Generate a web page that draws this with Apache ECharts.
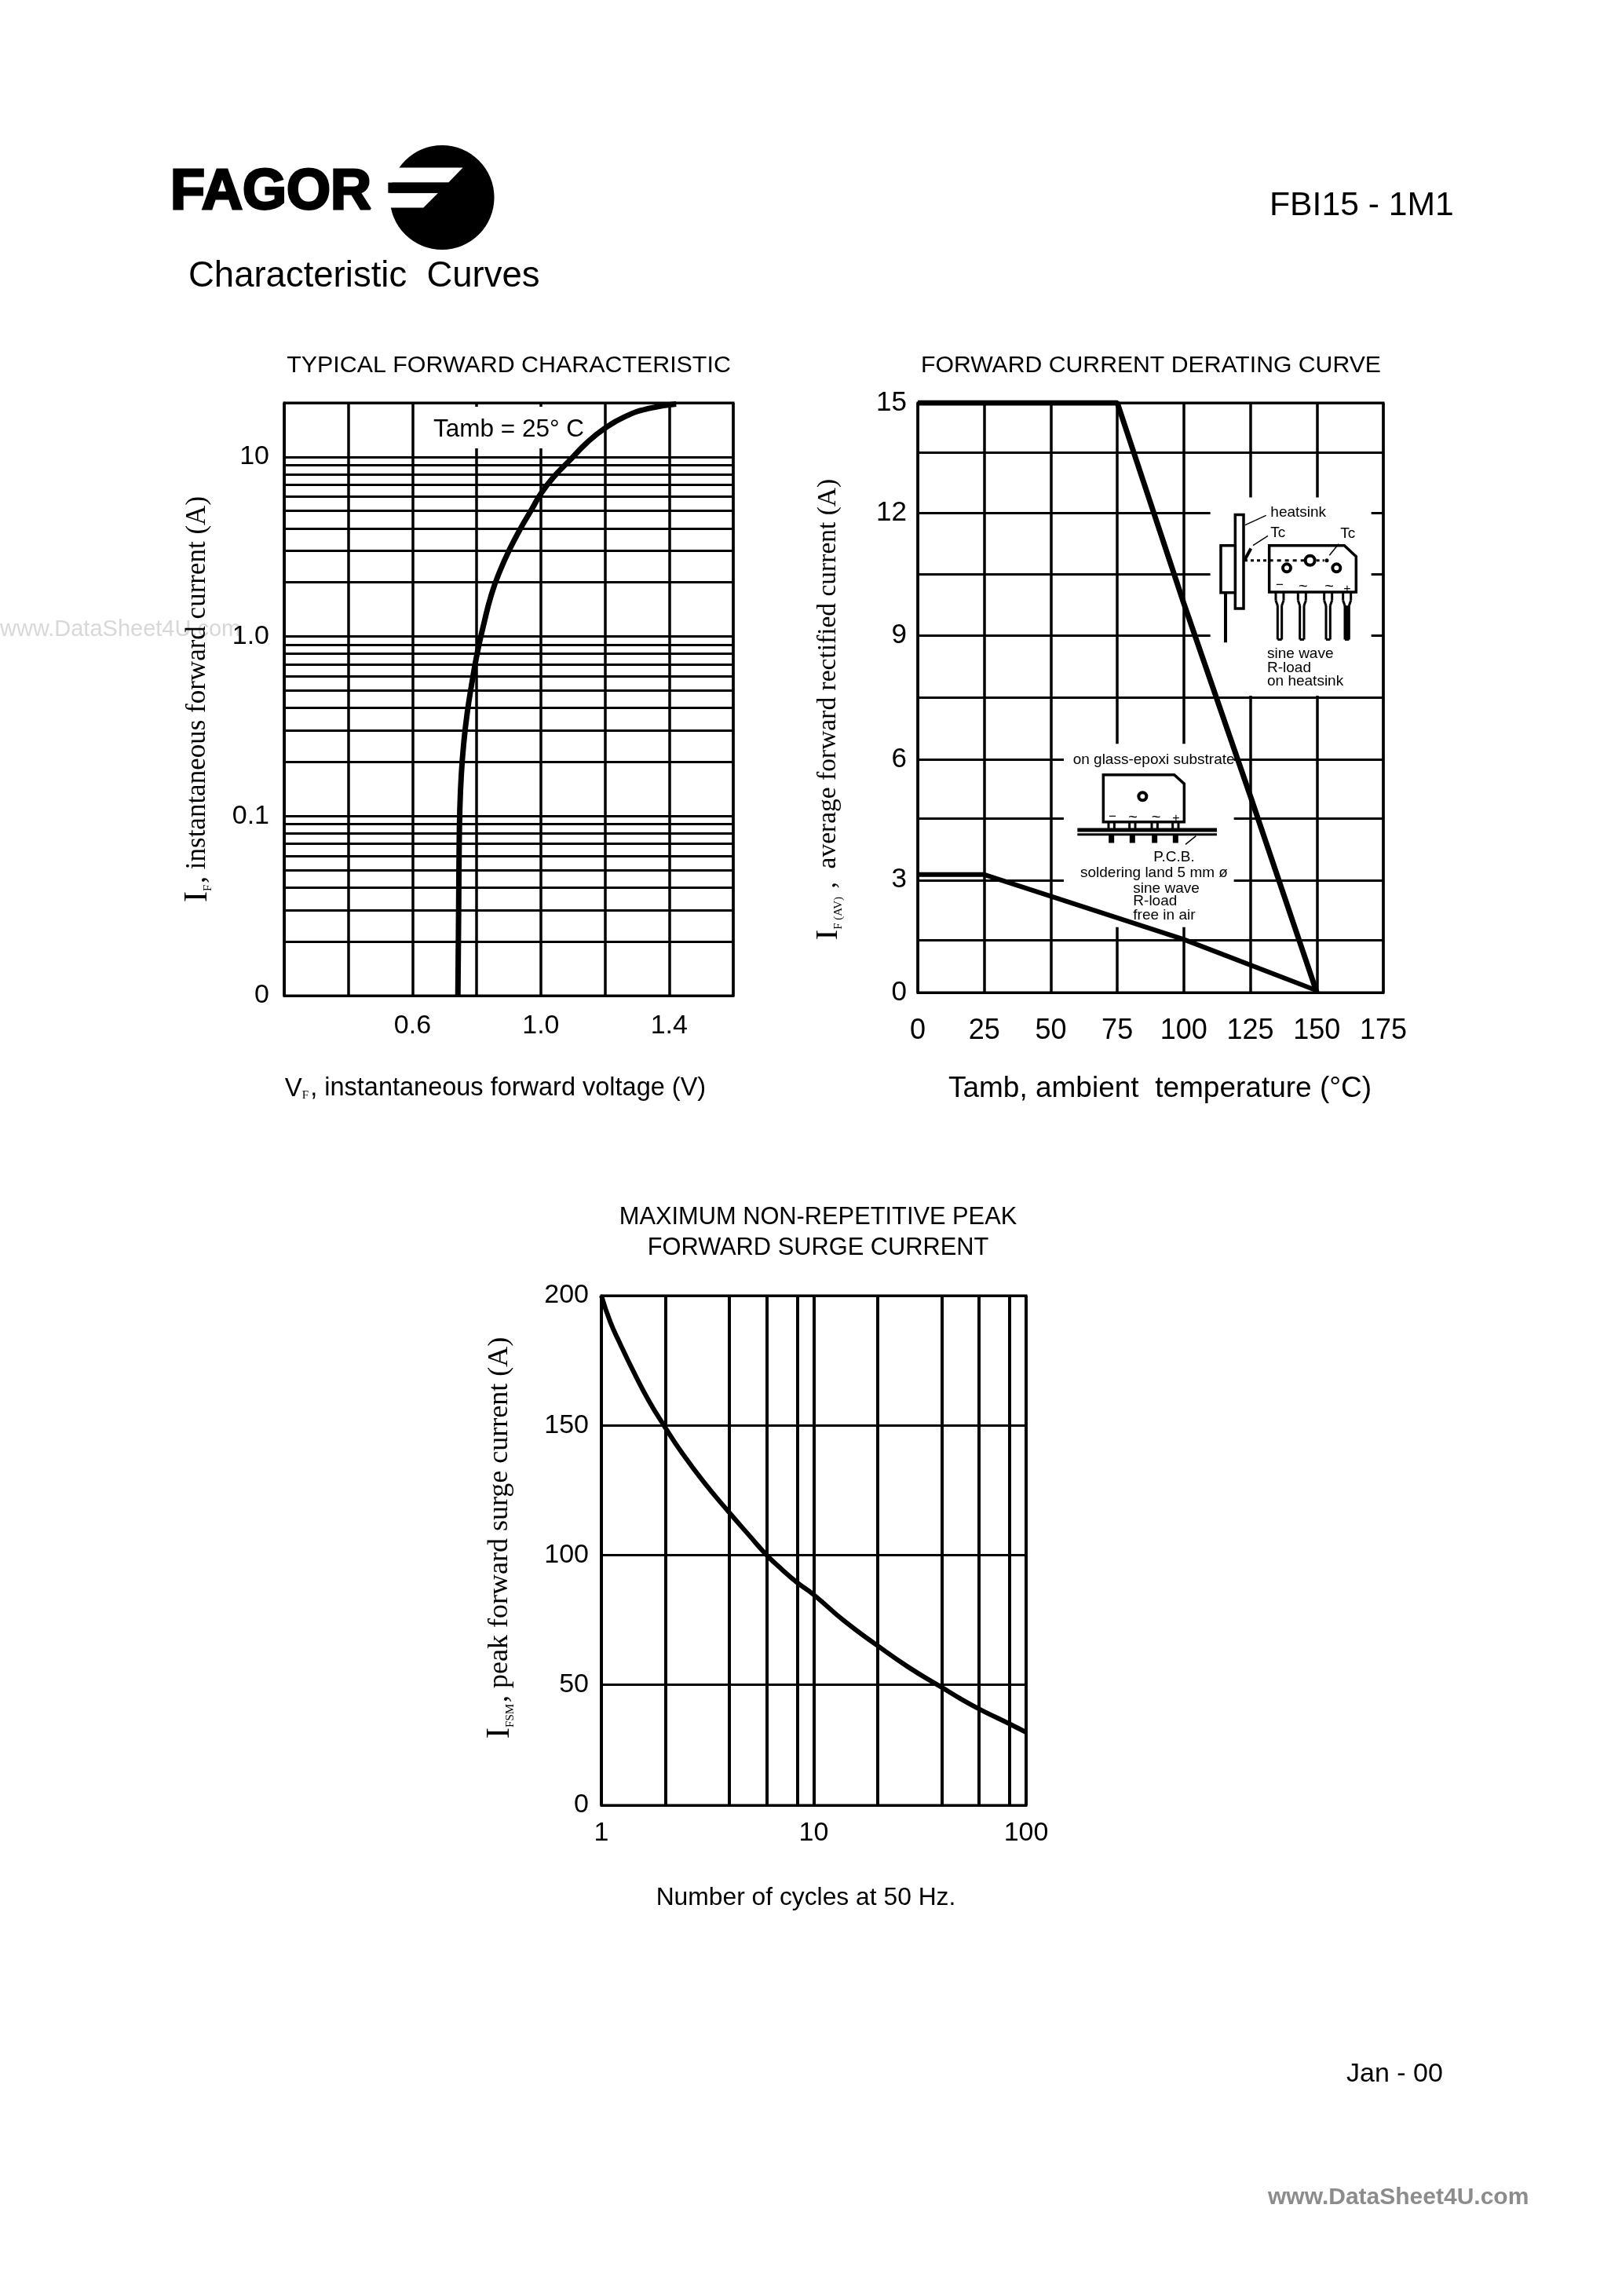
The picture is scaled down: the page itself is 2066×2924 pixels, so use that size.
<!DOCTYPE html>
<html><head><meta charset="utf-8">
<style>html,body{margin:0;padding:0;background:#fff}#c{width:2066px;height:2924px}</style>
<script src="https://cdn.jsdelivr.net/npm/echarts@6/dist/echarts.min.js"></script>
</head><body><div id="c"></div>
<script>
// ---- chart values ----
const forwardVoltage = [0.7415,0.7439,0.7451,0.7476,0.7524,0.7598,0.7707,0.7854,0.8024,0.822,0.8463,0.8732,0.9037,0.9366,0.9707,1.0012,1.0439,1.0866,1.1415,1.1963,1.2634,1.3366,1.422];
const forwardCurrent = [0.01,0.0309,0.0584,0.110,0.173,0.255,0.377,0.555,0.818,1.168,1.72,2.33,3.08,3.99,5.07,6.28,7.87,9.43,11.9,14.3,16.8,18.6,19.7];
const forwardMinorLines = [0.02,0.03,0.04,0.05,0.06,0.07,0.08,0.09,0.2,0.3,0.4,0.5,0.6,0.7,0.8,0.9,2,3,4,5,6,7,8,9];
const forwardXLabels = ['0.6','1.0','1.4'];

const heatsinkTemp = [0,75,100,125,150];
const heatsinkCurrent = [15,15,9.9,5.0,0];
const freeAirTemp = [0,25,100,150];
const freeAirCurrent = [3.0,3.0,1.35,0.05];
// the printed grid is slightly uneven: gridline heights as read on a linear scale, and their labels
const deratingGridValues = [0,1.33,2.86,4.42,5.93,7.51,9.08,10.64,12.2,13.73,15];
const deratingGridLabels = ['0','','3','','6','','9','','12','','15'];

const surgeCycles = [1,1.10,1.227,1.397,1.663,1.986,2.40,3.05,3.98,4.93,6.0,7.11,8.37,10,13.97,20,27.9,39.8,49.1,61,83.7,100];
const surgeCurrent = [200,189.8,181,171.2,159.1,148.6,138.2,126.6,115.1,106.2,98.2,92.4,87.3,82.6,72.2,62.6,54.2,46.4,41.8,37.5,31.9,28.6];
const surgeVerticalLines = [2,4,6,8.37,20,40,60,83.7];
const surgeGridValues = [0,47.4,98.2,149,200];
const surgeGridLabels = ['0','50','100','150','200'];

const SANS='"Liberation Sans",Arial,sans-serif', SERIF='"Liberation Serif",serif';
const pair=(a,b)=>a.map((v,i)=>[v,b[i]]);
const G1={left:362,top:513,width:572,height:755};
const G2={left:1169,top:513,width:593,height:751};
const G3={left:766,top:1650,width:541,height:649};
const axisLine={show:true,onZero:false,lineStyle:{color:'#000',width:3}};
const tick={show:false};
const split=w=>({show:true,lineStyle:{color:'#000',width:w,type:'solid'}});
const lab=(extra)=>Object.assign({color:'#000',fontFamily:SANS,fontSize:34,hideOverlap:false,showMinLabel:true,showMaxLabel:true},extra);
const rich=(size)=>({
 big:{fontFamily:SERIF,fontSize:size,color:'#000'},
 i:{fontFamily:SERIF,fontSize:size+7,color:'#000'},
 sub:{fontFamily:SERIF,fontSize:15,color:'#000',verticalAlign:'bottom',padding:[14,2,0,0]}
});
const near=(a,b)=>Math.abs(a-b)<b*1e-6+1e-9;
const lookup=(vals,labels)=>v=>{const i=vals.findIndex(t=>Math.abs(t-v)<1e-6);return i<0?'':labels[i];};
const hm=(vals,key,w)=>({silent:true,symbol:'none',label:{show:false},animation:false,z:0,
  lineStyle:{color:'#000',width:w,type:'solid'},emphasis:{disabled:true},
  data:vals.map(v=>({[key]:v}))});

// ---- decorative page furniture (logo, inset drawings) ----
const Lx=x=>180+x*.354, Ly=y=>158.7+y*.3325;
const K='#000';
const logo=[
 {type:'circle',shape:{cx:Lx(1082),cy:Ly(279),r:66.5},style:{fill:K}},
 {type:'polygon',shape:{points:[[Lx(860),Ly(165)],[Lx(1157),Ly(165)],[Lx(1105),Ly(222)],[Lx(860),Ly(222)]]},style:{fill:'#fff'}},
 {type:'polygon',shape:{points:[[Lx(860),Ly(262)],[Lx(1068),Ly(262)],[Lx(1015),Ly(318)],[Lx(860),Ly(318)]]},style:{fill:'#fff'}},
 {type:'rect',shape:{x:Lx(888),y:Ly(222),width:Lx(1120)-Lx(888),height:Ly(262)-Ly(222)},style:{fill:K}},
 {type:'text',x:217,y:246,style:{text:'FAGOR',fill:K,stroke:K,lineWidth:3,font:'900 72px "Liberation Sans"',textVerticalAlign:'middle',textAlign:'left'}}
];
const Ix=x=>1300+x/3, Iy=y=>620+y*.3827;
const ln=(x1,y1,x2,y2,w,dash)=>({type:'line',z:1,shape:{x1:Ix(x1),y1:Iy(y1),x2:Ix(x2),y2:Iy(y2)},style:{stroke:K,lineWidth:w,lineDash:dash||null}});
const box=(x1,y1,x2,y2,w,fill)=>({type:'rect',z:1,shape:{x:Ix(x1),y:Iy(y1),width:Ix(x2)-Ix(x1),height:Iy(y2)-Iy(y1)},style:{stroke:w?K:null,lineWidth:w||0,fill:fill||'#fff'}});
const poly=(pts,w)=>({type:'polygon',z:1,shape:{points:pts.map(p=>[Ix(p[0]),Iy(p[1])])},style:{stroke:K,lineWidth:w,fill:'#fff'}});
const hole=(x,y,r,w)=>({type:'circle',z:1,shape:{cx:Ix(x),cy:Iy(y),r},style:{stroke:K,lineWidth:w,fill:'#fff'}});
const dot=(x,y,r)=>({type:'circle',z:1,shape:{cx:Ix(x),cy:Iy(y),r},style:{fill:K}});
const txt=(s,x,y,size)=>({type:'text',z:1,x:Ix(x),y:Iy(y),style:{text:s,fill:K,font:(size||19)+'px "Liberation Sans"',textVerticalAlign:'middle',textAlign:'left'}});
const pin=(x,solid)=>[ln(x-15,352,x-15,378,3),ln(x+15,352,x+15,378,3),ln(x-15,378,x-8,395,3),ln(x+15,378,x+8,395,3),
  ln(x-8,395,x-8,508,3),ln(x+8,395,x+8,508,3),ln(x-8,508,x+8,508,3)].concat(solid?[ln(x,395,x,508,6)]:[]);
const lowPin=(x)=>[ln(x-11,1115,x-11,1142,3),ln(x+11,1115,x+11,1142,3),ln(x,1160,x,1185,7)];
const inset=[
 box(725,35,1340,695,0),
 box(165,855,815,1465,0),
 // on-heatsink drawing
 box(820,93,852,405,3.5),box(765,195,820,352,3.5),ln(783,352,783,518,4),
 ln(938,95,858,127,1.5),ln(945,163,888,195,1.5),ln(880,205,855,245,4),
 ln(855,245,950,245,3,[4,4]),
 poly([[950,195],[1237,195],[1282,232],[1282,350],[950,350]],3.5),
 ln(950,245,1085,245,3,[5,5]),ln(1130,245,1160,245,3,[4,4]),
 hole(1106,245,6,4),hole(1017,270,5,4),hole(1207,270,5,4),dot(1170,245,2.5),ln(1215,190,1180,228,1.5),
 ...pin(990),...pin(1075),...pin(1175),...pin(1247,true),
 txt('heatsink',955,86),txt('Tc',955,153),txt('Tc',1222,155),
 txt('\u2212',975,327,17),txt('~',1062,333,20),txt('~',1162,333,20),txt('+',1234,340,16),
 txt('sine wave',942,555),txt('R-load',942,603),txt('on heatsink',942,648),
 // glass-epoxi drawing
 txt('on glass-epoxi substrate',200,908),
 poly([[316,958],[587,958],[625,988],[625,1115],[316,1115]],3.5),hole(466,1030,5,4),
 txt('\u2212',336,1098,17),txt('~',412,1102,20),txt('~',500,1102,20),txt('+',580,1103,16),
 ...lowPin(347),...lowPin(427),...lowPin(512),...lowPin(592),
 ln(217,1142,750,1142,5),ln(217,1157,750,1157,3),ln(630,1190,670,1162,1.5),
 txt('P.C.B.',508,1233),txt('soldering land 5 mm \u00f8',228,1285),txt('sine wave',430,1336),txt('R-load',430,1380),txt('free in air',430,1427)
];
const ttt=(s,x,y,size,align,fill,weight)=>({type:'text',z:0,x,y,style:{text:s,fill:fill||K,font:(weight||'normal')+' '+size+'px "Liberation Sans"',textVerticalAlign:'middle',textAlign:align||'left'}});
const tambMask={type:'rect',z:1,shape:{x:550,y:518,width:200,height:53},style:{fill:'#fff'}};
const page=[
 ttt('www.DataSheet4U.com',0,802,29,'left','#d8d8d8'),
 ttt('www.DataSheet4U.com',1615,2799,30,'left','#8c8c8c','bold'),
 ttt('Characteristic  Curves',240,352,45.5),
 ttt('FBI15 - 1M1',1617,262,42.7),
 ttt('Jan - 00',1715,2642,34),
 tambMask,
 Object.assign(ttt('Tamb = 25\u00b0 C',552,547,31.5),{z:1})
];

const chart=echarts.init(document.getElementById('c'),null,{renderer:'canvas',width:2066,height:2924});
chart.setOption({
 animation:false,backgroundColor:'#fff',
 title:[
  {text:'TYPICAL FORWARD CHARACTERISTIC',left:643,top:446,textAlign:'center',textStyle:{fontFamily:SANS,fontWeight:'normal',fontSize:30.4,color:'#000'}},
  {text:'FORWARD CURRENT DERATING CURVE',left:1461,top:446,textAlign:'center',textStyle:{fontFamily:SANS,fontWeight:'normal',fontSize:30.2,color:'#000'}},
  {text:'MAXIMUM NON-REPETITIVE PEAK\nFORWARD SURGE CURRENT',left:1037,top:1526,textAlign:'center',textStyle:{fontFamily:SANS,fontWeight:'normal',fontSize:30.8,lineHeight:39,color:'#000'}}
 ],
 grid:[
  Object.assign({show:true,borderColor:'#000',borderWidth:3,containLabel:false},G1),
  Object.assign({show:true,borderColor:'#000',borderWidth:3,containLabel:false},G2),
  Object.assign({show:true,borderColor:'#000',borderWidth:3,containLabel:false},G3)
 ],
 xAxis:[
  {gridIndex:0,type:'value',min:0.2,max:1.6,interval:0.2,axisLine,axisTick:tick,splitLine:split(3.5),
   axisLabel:lab({margin:22,formatter:v=>{const s=v.toFixed(1);return forwardXLabels.includes(s)?s:'';}}),
   name:'{i|V}{sub|F}{s|, instantaneous forward voltage (V)}',nameLocation:'middle',nameGap:102,
   nameTextStyle:{padding:[0,34,0,0],rich:{i:{fontFamily:SANS,fontSize:33,color:'#000'},sub:rich(30).sub,s:{fontFamily:SANS,fontSize:32.5,color:'#000'}}}},
  {gridIndex:1,type:'value',min:0,max:175,interval:25,axisLine,axisTick:tick,splitLine:split(3.5),
   axisLabel:lab({margin:31,fontSize:36}),
   name:'Tamb, ambient  temperature (\u00b0C)',nameLocation:'middle',nameGap:104,
   nameTextStyle:{fontFamily:SANS,fontSize:37,color:'#000',padding:[0,0,0,24]}},
  {gridIndex:2,type:'log',logBase:10,min:1,max:100,axisLine,axisTick:tick,splitLine:split(4),
   axisLabel:lab({margin:19,formatter:v=>[1,10,100].some(t=>near(v,t))?String(Math.round(v)):''}),
   name:'Number of cycles at 50 Hz.',nameLocation:'middle',nameGap:102,
   nameTextStyle:{fontFamily:SANS,fontSize:31.8,color:'#000',padding:[0,20,0,0]}}
 ],
 yAxis:[
  {gridIndex:0,type:'log',logBase:10,min:0.01,max:20,axisLine,axisTick:tick,splitLine:split(3),
   axisLabel:lab({margin:19,formatter:v=>near(v,10)?'10':near(v,1)?'1.0':near(v,0.1)?'0.1':near(v,0.01)?'0':''}),
   name:'{i|I}{sub|F}{big|, instantaneous forward current (A)}',nameLocation:'middle',nameRotate:90,nameGap:89,
   nameTextStyle:{rich:rich(35)}},
  {gridIndex:1,type:'value',min:0,max:15,interval:1.5,axisLine,axisTick:{show:false,customValues:deratingGridValues},splitLine:split(3),
   axisLabel:lab({margin:14,fontSize:35,customValues:deratingGridValues,formatter:lookup(deratingGridValues,deratingGridLabels)}),
   name:'{i|I}{sub|F (AV)}{big| ,  average forward rectified current (A)}',nameLocation:'middle',nameRotate:90,nameGap:93,
   nameTextStyle:{rich:rich(33.5),padding:[0,30,0,0]}},
  {gridIndex:2,type:'value',min:0,max:200,interval:50,axisLine,axisTick:{show:false,customValues:surgeGridValues},splitLine:split(3),
   axisLabel:lab({margin:16,customValues:surgeGridValues,formatter:lookup(surgeGridValues,surgeGridLabels)}),
   name:'{i|I}{sub|FSM}{big|, peak forward surge current (A)}',nameLocation:'middle',nameRotate:90,nameGap:108,
   nameTextStyle:{rich:rich(36),padding:[0,0,0,32]}}
 ],
 series:[
  {name:'Typical forward characteristic',type:'line',xAxisIndex:0,yAxisIndex:0,data:pair(forwardVoltage,forwardCurrent),smooth:true,showSymbol:false,z:2,
   lineStyle:{color:'#000',width:7},markLine:hm(forwardMinorLines,'yAxis',3)},
  {name:'On heatsink',type:'line',xAxisIndex:1,yAxisIndex:1,data:pair(heatsinkTemp,heatsinkCurrent),showSymbol:false,z:2,lineStyle:{color:'#000',width:7}},
  {name:'Free in air',type:'line',xAxisIndex:1,yAxisIndex:1,data:pair(freeAirTemp,freeAirCurrent),showSymbol:false,z:2,lineStyle:{color:'#000',width:6}},
  {name:'Peak forward surge current',type:'line',xAxisIndex:2,yAxisIndex:2,data:pair(surgeCycles,surgeCurrent),smooth:true,showSymbol:false,z:2,
   lineStyle:{color:'#000',width:6},markLine:hm(surgeVerticalLines,'xAxis',4)}
 ],
 graphic:{elements:[...page,...logo,...inset]}
});
</script></body></html>
